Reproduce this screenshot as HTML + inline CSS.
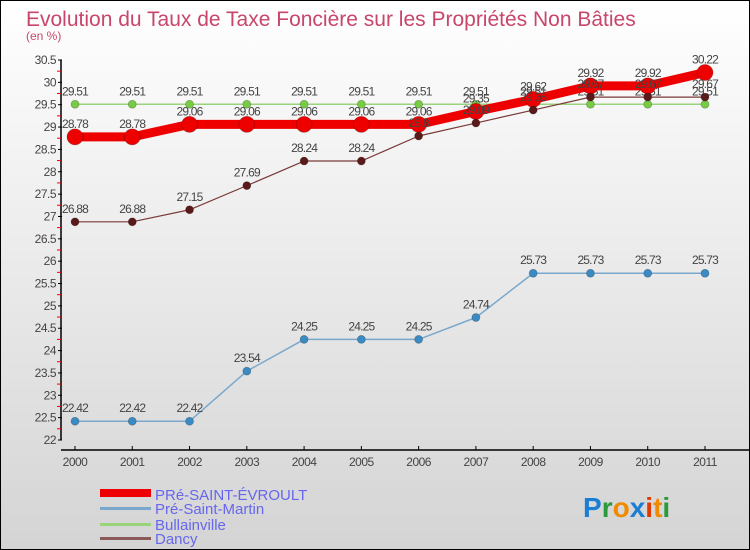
<!DOCTYPE html>
<html><head><meta charset="utf-8"><style>
body{margin:0}
#c{width:750px;height:550px;position:relative;box-sizing:border-box;border:1px solid #000;background:linear-gradient(#ffffff,#d4d4d4);font-family:"Liberation Sans",sans-serif;overflow:hidden}
</style></head><body>
<div id="c">
<svg id="s" width="750" height="550" style="position:absolute;left:-1px;top:-1px">
<text x="26" y="26" font-size="21" fill="#c8466a">Evolution du Taux de Taxe Foncière sur les Propriétés Non Bâties</text>
<text x="26" y="40" font-size="12" fill="#c8466a">(en %)</text>
<g id="axes"></g><g id="series"></g>
<g>
<rect x="100" y="489" width="51" height="8" fill="#e00"/>
<text x="155" y="500" font-size="15" fill="#6666ee">PRé-SAINT-ÉVROULT</text>
<rect x="100" y="507" width="51" height="3" fill="#7aa8cc"/>
<text x="155" y="514" font-size="15" fill="#6666ee">Pré-Saint-Martin</text>
<rect x="100" y="523" width="51" height="3" fill="#99d47a"/>
<text x="155" y="530" font-size="15" fill="#6666ee">Bullainville</text>
<rect x="100" y="537" width="51" height="3" fill="#8a5a5a"/>
<text x="155" y="544" font-size="15" fill="#6666ee">Dancy</text>
</g>
<text x="583" y="517" font-size="28" font-weight="bold"><tspan fill="#1a7fd4">P</tspan><tspan fill="#2a9a3a">r</tspan><tspan fill="#f08a00">o</tspan><tspan fill="#1a7fd4">x</tspan><tspan fill="#e03a00">i</tspan><tspan fill="#f08a00">t</tspan><tspan fill="#2a9a3a">i</tspan></text>
</svg>
</div>
<script>
const years=["2000","2001","2002","2003","2004","2005","2006","2007","2008","2009","2010","2011"];
const yTicks=[22,22.5,23,23.5,24,24.5,25,25.5,26,26.5,27,27.5,28,28.5,29,29.5,30,30.5];
const evroult=[28.78,28.78,29.06,29.06,29.06,29.06,29.06,29.35,29.62,29.92,29.92,30.22];
const martin=[22.42,22.42,22.42,23.54,24.25,24.25,24.25,24.74,25.73,25.73,25.73,25.73];
const bullainville=[29.51,29.51,29.51,29.51,29.51,29.51,29.51,29.51,29.51,29.51,29.51,29.51];
const dancy=[26.88,26.88,27.15,27.69,28.24,28.24,28.8,29.09,29.38,29.67,29.67,29.67];
const NS="http://www.w3.org/2000/svg";
const X=i=>75+i*(630/11);
const Y=v=>440-(v-22)*(380/8.5);
function mk(tag,at,parent){const e=document.createElementNS(NS,tag);for(const k in at)e.setAttribute(k,at[k]);parent.appendChild(e);return e;}
const ax=document.getElementById('axes');
const yl=mk('line',{x1:61,y1:60,x2:61,y2:440,stroke:'#000','stroke-width':1.5},ax);


const xl=mk('line',{x1:61,y1:450,x2:750,y2:450,stroke:'#000','stroke-width':1.5},ax);


yTicks.forEach((t,i)=>{
  const y=Y(t);
  mk('line',{x1:58,y1:y,x2:62,y2:y,stroke:'#000'},ax);
  if(i<yTicks.length-1) mk('line',{x1:57,y1:y-11.2,x2:61,y2:y-11.2,stroke:'#e00'},ax);
  const tx=mk('text',{x:56,y:y+4,'font-size':12,fill:'#444','text-anchor':'end','letter-spacing':'-0.5'},ax);
  tx.textContent=String(t);
  
  
});
years.forEach((yr,i)=>{
  mk('line',{x1:X(i),y1:446,x2:X(i),y2:450,stroke:'#000'},ax);
  const tx=mk('text',{x:X(i),y:466,'font-size':12,fill:'#444','text-anchor':'middle','letter-spacing':'-0.5'},ax);
  tx.textContent=yr;
  
  
});
const sg=document.getElementById('series');
function series(vals,color,w,r,name,dot){
  const g=mk('g',{},sg);
  
  
  const p=mk('polyline',{points:vals.map((v,i)=>X(i)+','+Y(v)).join(' '),fill:'none',stroke:color,'stroke-width':w,'stroke-linejoin':'round'},g);
  
  
  vals.forEach((v,i)=>{
    const c=mk('circle',{cx:X(i),cy:Y(v),r:r,fill:dot,stroke:'rgba(0,0,0,0.25)','stroke-width':0.8},g);
    
    
    const t=mk('text',{x:X(i),y:Y(v)-9,'font-size':12,fill:'#444','text-anchor':'middle','letter-spacing':'-0.8'},g);
    t.textContent=String(v);
    
    
  });
}
series(martin,'#7aa8cc',1.5,4,'pre-saint-martin','#3a8ac4');
series(bullainville,'#99d47a',1.5,4,'bullainville','#77cc44');
series(evroult,'#e00',9,8,'pre-saint-evroult','#e00');
series(dancy,'#7a3a3a',1.2,4,'dancy','#5a1a1a');
</script>
</body></html>
